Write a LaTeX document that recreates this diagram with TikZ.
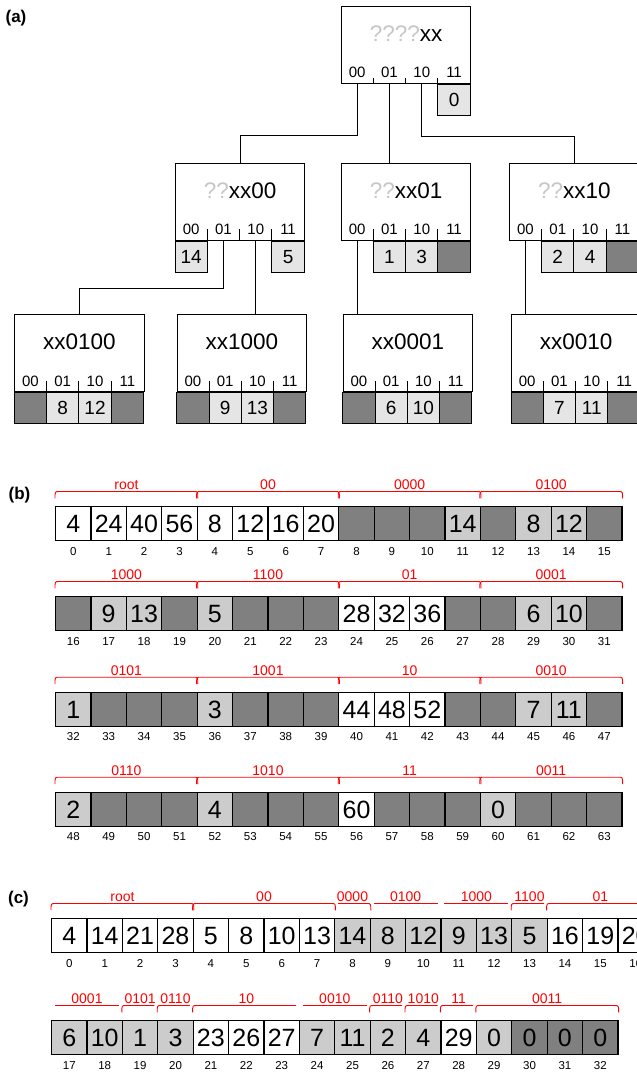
\documentclass[tikz,border=0pt]{standalone}
\usepackage{fontspec}
\setmainfont{Liberation Sans}
\usetikzlibrary{calc}

\definecolor{leafgray}{gray}{0.9}
\definecolor{cellgray}{gray}{0.8}
\definecolor{voidgray}{gray}{0.5}
\definecolor{askgray}{gray}{0.78}

\newcommand{\fs}[1]{\fontsize{#1}{#1}\selectfont}

\tikzset{
  tline/.style={line width=0.9pt},
  tbox/.style={draw, line width=0.9pt, minimum width=129.3pt, minimum height=77pt, inner sep=0pt, anchor=north west},
  ttitle/.style={font=\fs{22.5}, inner sep=0pt, text height=16.1pt, text depth=0pt},
  slab/.style={font=\fs{15}, inner sep=0pt, text height=10.7pt, text depth=0pt},
  slot/.style={draw, line width=0.9pt, minimum width=32.3pt, minimum height=31.5pt, inner sep=0pt, anchor=north,
    font=\fs{19}, text height=13.6pt, text depth=0pt},
  leaf/.style={slot, fill=leafgray},
  void/.style={slot, fill=voidgray},
  cell/.style={draw, line width=1.2pt, minimum width=35.4pt, minimum height=34pt, inner sep=0pt, anchor=north west,
    font=\fs{25}, text height=17.9pt, text depth=0pt},
  idx/.style={font=\fs{11.5}, inner sep=0pt, text height=8.2pt, text depth=0pt},
  brk/.style={red, line width=0.9pt},
  brklab/.style={red, font=\fs{14}, inner sep=0pt, text height=10pt, text depth=0pt},
  part/.style={font=\bfseries\fs{17}, inner sep=0pt}
}

% box of the tree: name, x, y, title, tick length
\newcommand{\tnode}[5]{%
  \node[tbox] (#1) at (#2,#3) {};
  \node[ttitle] (#1-t) at ($(#1.north)+(0,27.3)$) {#4};
  \foreach \l [count=\i from 0] in {00,01,10,11}{
    \coordinate (#1-s\i) at ($(#1.south west)+({16.15+32.3*\i},0)$);
    \node[slab] (#1-l\i) at ($(#1-s\i)+(0,-11)$) {\l};
  }
  \foreach \i in {1,2,3}
    \draw[tline] ($(#1.south west)+(32.3*\i,0)$) -- ++(0,-#5);
}

% one row of the array: prefix, x, y, first index, fill/value list
\newcommand{\cellrow}[5]{%
  \foreach \f/\v [count=\i from 0] in {#5}{
    \pgfmathtruncatemacro\k{#4+\i}
    \node[cell, fill=\f] (#1-c\k) at ({#2+35.4*\i},#3) {\v};
    \node[idx] (#1-i\k) at ($(#1-c\k.south)+(0,9.8)$) {\k};
  }
}

% bracket over cells: name, first cell, last cell, label, left hook, right hook
\newcommand{\brc}[6]{%
  \draw[brk] ($(#2.north west)+({4*(1-#5)},{-14.5+6.8*#5})$)
     .. controls ($(#2.north west)+({4*(1-#5)},-14.5)$) .. ($(#2.north west)+(4,-14.5)$)
     -- ($(#3.north east)+(-4,-14.5)$)
     .. controls ($(#3.north east)+({-4*(1-#6)},-14.5)$) .. ($(#3.north east)+({-4*(1-#6)},{-14.5+6.8*#6})$);
  \node[brklab] (#1) at ($(#2.north west)!0.5!(#3.north east)+(0,-21.7)$) {#4};
}

\begin{document}
\begin{tikzpicture}[x=1pt, y=-1pt]

    \useasboundingbox[fill=white] (0,0) rectangle (637,1074);
    \clip (0,0) rectangle (637,1074);

    % (a) the tree
    \node[part] (pa) at (16,18.5) {(a)};

    \tnode{root}{341}{5.7}{{\color{askgray}????}xx}{5.5}
    \tnode{n00}{175}{162.7}{{\color{askgray}??}xx00}{12}
    \tnode{n01}{341}{162.7}{{\color{askgray}??}xx01}{12}
    \tnode{n10}{509.3}{162.7}{{\color{askgray}??}xx10}{12}
    \tnode{n0100}{14.3}{314}{xx0100}{11}
    \tnode{n1000}{176.7}{314}{xx1000}{11}
    \tnode{n0001}{342.7}{314}{xx0001}{11}
    \tnode{n0010}{511}{314}{xx0010}{11}

    \node[leaf] (root-v3) at (root-s3) {0};

    \node[leaf] (n00-v0) at (n00-s0) {14};
    \node[leaf] (n00-v3) at (n00-s3) {5};

    \node[leaf] (n01-v1) at (n01-s1) {1};
    \node[leaf] (n01-v2) at (n01-s2) {3};
    \node[void] (n01-v3) at (n01-s3) {};

    \node[leaf] (n10-v1) at (n10-s1) {2};
    \node[leaf] (n10-v2) at (n10-s2) {4};
    \node[void] (n10-v3) at (n10-s3) {};

    \node[void] (n0100-v0) at (n0100-s0) {};
    \node[leaf] (n0100-v1) at (n0100-s1) {8};
    \node[leaf] (n0100-v2) at (n0100-s2) {12};
    \node[void] (n0100-v3) at (n0100-s3) {};

    \node[void] (n1000-v0) at (n1000-s0) {};
    \node[leaf] (n1000-v1) at (n1000-s1) {9};
    \node[leaf] (n1000-v2) at (n1000-s2) {13};
    \node[void] (n1000-v3) at (n1000-s3) {};

    \node[void] (n0001-v0) at (n0001-s0) {};
    \node[leaf] (n0001-v1) at (n0001-s1) {6};
    \node[leaf] (n0001-v2) at (n0001-s2) {10};
    \node[void] (n0001-v3) at (n0001-s3) {};

    \node[void] (n0010-v0) at (n0010-s0) {};
    \node[leaf] (n0010-v1) at (n0010-s1) {7};
    \node[leaf] (n0010-v2) at (n0010-s2) {11};
    \node[void] (n0010-v3) at (n0010-s3) {};

    \draw[tline] (root-s0) -- ++(0,52.3) -| (n00.north);
    \draw[tline] (root-s1) -- (root-s1 |- n01.north);
    \draw[tline] (root-s2) -- ++(0,53.3) -| (n10.north);
    \draw[tline] (n00-s1) -- ++(0,47.4) -| (n0100.north);
    \draw[tline] (n00-s2) -- (n00-s2 |- n1000.north);
    \draw[tline] (n01-s0) -- (n01-s0 |- n0001.north);
    \draw[tline] (n10-s0) -- (n10-s0 |- n0010.north);

    % (b) the full array
    \node[part] (pb) at (19.5,495) {(b)};

    \cellrow{b}{55}{506}{0}{white/4,white/24,white/40,white/56,white/8,white/12,white/16,white/20,
      voidgray/{},voidgray/{},voidgray/{},cellgray/14,voidgray/{},cellgray/8,cellgray/12,voidgray/{}}
    \cellrow{b}{55}{596}{16}{voidgray/{},cellgray/9,cellgray/13,voidgray/{},cellgray/5,voidgray/{},voidgray/{},voidgray/{},
      white/28,white/32,white/36,voidgray/{},voidgray/{},cellgray/6,cellgray/10,voidgray/{}}
    \cellrow{b}{55}{691.7}{32}{cellgray/1,voidgray/{},voidgray/{},voidgray/{},cellgray/3,voidgray/{},voidgray/{},voidgray/{},
      white/44,white/48,white/52,voidgray/{},voidgray/{},cellgray/7,cellgray/11,voidgray/{}}
    \cellrow{b}{55}{791.7}{48}{cellgray/2,voidgray/{},voidgray/{},voidgray/{},cellgray/4,voidgray/{},voidgray/{},voidgray/{},
      white/60,voidgray/{},voidgray/{},voidgray/{},cellgray/0,voidgray/{},voidgray/{},voidgray/{}}

    \brc{b-root}{b-c0}{b-c3}{root}{1}{1}
    \brc{b-00}{b-c4}{b-c7}{00}{1}{1}
    \brc{b-0000}{b-c8}{b-c11}{0000}{1}{1}
    \brc{b-0100}{b-c12}{b-c15}{0100}{1}{1}
    \brc{b-1000}{b-c16}{b-c19}{1000}{1}{1}
    \brc{b-1100}{b-c20}{b-c23}{1100}{1}{1}
    \brc{b-01}{b-c24}{b-c27}{01}{1}{1}
    \brc{b-0001}{b-c28}{b-c31}{0001}{1}{1}
    \brc{b-0101}{b-c32}{b-c35}{0101}{1}{1}
    \brc{b-1001}{b-c36}{b-c39}{1001}{1}{1}
    \brc{b-10}{b-c40}{b-c43}{10}{1}{1}
    \brc{b-0010}{b-c44}{b-c47}{0010}{1}{1}
    \brc{b-0110}{b-c48}{b-c51}{0110}{1}{1}
    \brc{b-1010}{b-c52}{b-c55}{1010}{1}{1}
    \brc{b-11}{b-c56}{b-c59}{11}{1}{1}
    \brc{b-0011}{b-c60}{b-c63}{0011}{1}{1}

    % (c) the compact array
    \node[part] (pc) at (18.5,899.5) {(c)};

    \cellrow{c}{51}{918}{0}{white/4,white/14,white/21,white/28,white/5,white/8,white/10,white/13,
      cellgray/14,cellgray/8,cellgray/12,cellgray/9,cellgray/13,cellgray/5,white/16,white/19,white/20}
    \cellrow{c}{51}{1020}{17}{cellgray/6,cellgray/10,cellgray/1,cellgray/3,white/23,white/26,white/27,cellgray/7,
      cellgray/11,cellgray/2,cellgray/4,white/29,cellgray/0,voidgray/0,voidgray/0,voidgray/0}

    \brc{c-root}{c-c0}{c-c3}{root}{1}{1}
    \brc{c-00}{c-c4}{c-c7}{00}{1}{1}
    \brc{c-0000}{c-c8}{c-c8}{0000}{0}{1}
    \brc{c-0100}{c-c9}{c-c10}{0100}{0}{0}
    \brc{c-1000}{c-c11}{c-c12}{1000}{0}{0}
    \brc{c-1100}{c-c13}{c-c13}{1100}{1}{0}
    \brc{c-01}{c-c14}{c-c16}{01}{1}{0}
    \brc{c-0001}{c-c17}{c-c18}{0001}{0}{0}
    \brc{c-0101}{c-c19}{c-c19}{0101}{1}{0}
    \brc{c-0110a}{c-c20}{c-c20}{0110}{1}{0}
    \brc{c-10}{c-c21}{c-c23}{10}{1}{0}
    \brc{c-0010}{c-c24}{c-c25}{0010}{0}{0}
    \brc{c-0110b}{c-c26}{c-c26}{0110}{1}{0}
    \brc{c-1010}{c-c27}{c-c27}{1010}{1}{0}
    \brc{c-11}{c-c28}{c-c28}{11}{1}{0}
    \brc{c-0011}{c-c29}{c-c32}{0011}{1}{1}

\end{tikzpicture}
\end{document}
